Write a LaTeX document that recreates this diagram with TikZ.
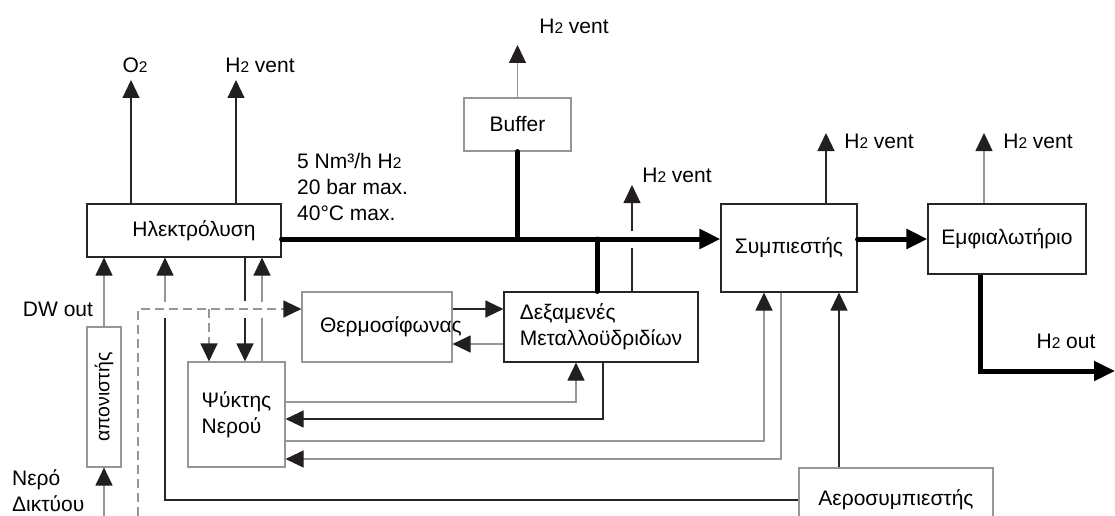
\documentclass[tikz,border=0pt]{standalone}
\usepackage{fontspec}
\setmainfont{Liberation Sans}
\usetikzlibrary{arrows.meta,calc}

\definecolor{pipegray}{RGB}{150,150,150}
\definecolor{tipdark}{RGB}{35,31,32}
\newcommand{\two}{{\fontsize{15.5}{15.5}\selectfont 2}}

\begin{document}
\begin{tikzpicture}[x=1pt,y=-1pt,
  font=\fontsize{21}{26}\selectfont,
  box/.style={draw=black!85,line width=1.1pt,inner sep=0pt},
  boxg/.style={draw=pipegray,line width=1.1pt,inner sep=0pt},
  pipe/.style={line width=1.1pt,black!85},
  pipeg/.style={line width=1.1pt,pipegray},
  main/.style={line width=5pt,black,line cap=round},
  arrowhd/.style={-{Triangle[length=18pt,width=17pt,color=tipdark]}},
  bigtip/.style={-{Triangle[length=21pt,width=19pt,color=black]}},
  dashline/.style={pipeg,dash pattern=on 9pt off 5pt},
  lbl/.style={inner sep=0pt}
]
\clip (0,0) rectangle (1115,516);

% units
\node[box,minimum width=194pt,minimum height=53pt] (elec) at (184,230.5) {\hspace*{20pt}Ηλεκτρόλυση};
\node[boxg,minimum width=107pt,minimum height=53pt] (buffer) at (517.5,124.5) {Buffer};
\node[box,minimum width=136pt,minimum height=88pt] (comp) at (789,248) {Συμπιεστής};
\node[box,minimum width=158pt,minimum height=70pt] (bottle) at (1007,239) {Εμφιαλωτήριο};
\node[boxg,minimum width=34pt,minimum height=140pt] (deion) at (104,397) {\rotatebox{90}{\fontsize{19.5}{19.5}\selectfont απονιστής}};
\node[boxg,minimum width=150pt,minimum height=70pt,text width=114pt,align=left] (thermo) at (377,327) {Θερμοσίφωνας};
\node[box,minimum width=194pt,minimum height=70pt,align=left] (tanks) at (601,327) {Δεξαμενές\\Μεταλλοϋδριδίων};
\node[boxg,minimum width=97pt,minimum height=105pt,align=left] (cooler) at (236.5,414.5) {Ψύκτης\\Νερού};
\node[boxg,minimum width=194pt,minimum height=64pt] (aircomp) at (896,500) {Αεροσυμπιεστής};

\coordinate (hline) at (0,239);
\coordinate (dash) at (0,309);

% vents
\coordinate (o2tip) at (131,80);
\draw[pipe,arrowhd] (elec.north -| o2tip) -- (o2tip);
\node[lbl] (o2) at (135,65) {O\two};
\coordinate (ventA) at (236,80);
\draw[pipe,arrowhd] (elec.north -| ventA) -- (ventA);
\node[lbl] (ventAlbl) at (260,65) {H\two{} vent};
\coordinate (ventB) at (517.5,45);
\draw[pipeg,arrowhd] (buffer.north) -- (ventB);
\node[lbl] (ventBlbl) at (574,26) {H\two{} vent};
\coordinate (ventC) at (632,185);
\draw[pipe] (tanks.north -| ventC) -- ($(hline -| ventC)+(0,9)$);
\draw[pipe,arrowhd] ($(hline -| ventC)+(0,-8)$) -- (ventC);
\node[lbl] (ventClbl) at (677,175) {H\two{} vent};
\coordinate (ventD) at (826,133);
\draw[pipe,arrowhd] (comp.north -| ventD) -- (ventD);
\node[lbl] (ventDlbl) at (879,141) {H\two{} vent};
\coordinate (ventE) at (984,133);
\draw[pipeg,arrowhd] (bottle.north -| ventE) -- (ventE);
\node[lbl] (ventElbl) at (1038,141) {H\two{} vent};

% hydrogen line
\draw[main] (buffer.south) -- (buffer.south |- hline);
\coordinate (tkjoin) at (597,239);
\draw[main] (tkjoin) -- (tanks.north -| tkjoin);
\draw[main,bigtip] (elec.east |- hline) -- (comp.west |- hline);
\node[lbl,align=left,anchor=west] (spec) at (297,187) {5 Nm³/h H\two\\20 bar max.\\40°C max.};
\draw[main,bigtip] (comp.east |- hline) -- (bottle.west |- hline);
\coordinate (h2down) at (980,371);
\coordinate (h2out) at (1115,371);
\draw[main,line cap=butt,bigtip] (bottle.south -| h2down) |- (h2out);
\node[lbl] (h2outlbl) at (1066,341) {H\two{} out};

% water
\coordinate (waterin) at (104,516);
\draw[pipeg,arrowhd] (waterin) -- (deion.south);
\draw[pipeg,arrowhd] (deion.north) -- (elec.south -| deion.north);
\node[lbl] (dwout) at (58,309) {DW out};
\node[lbl,align=left,anchor=west] (netwater) at (12,491) {Νερό\\Δικτύου};

% dashed
\coordinate (dashin) at (138,516);
\draw[dashline,arrowhd] (dashin) |- (thermo.west |- dash);
\coordinate (dashbr) at (209,309);
\draw[dashline,arrowhd] (dashbr) -- (cooler.north -| dashbr);

% lines across the dashed one
\coordinate (airx) at (165,0);
\draw[pipeg,arrowhd] ($(dash -| airx)+(0,-7)$) -- (elec.south -| airx);
\draw[pipe] (aircomp.west) -| ($(dash -| airx)+(0,9)$);
\coordinate (elecout) at (245,0);
\draw[pipe] (elec.south -| elecout) -- ($(dash -| elecout)+(0,-8)$);
\draw[pipe,arrowhd] ($(dash -| elecout)+(0,9)$) -- (cooler.north -| elecout);
\coordinate (elecin) at (262,0);
\draw[pipeg] (cooler.north -| elecin) -- ($(dash -| elecin)+(0,9)$);
\draw[pipeg,arrowhd] ($(dash -| elecin)+(0,-7)$) -- (elec.south -| elecin);

% thermosiphon and tanks
\draw[pipe,arrowhd] (thermo.east |- dash) -- (tanks.west |- dash);
\coordinate (backy) at (0,344);
\draw[pipeg,arrowhd] (tanks.west |- backy) -- (thermo.east |- backy);

% cooling loops
\coordinate (r1) at (576,402);
\draw[pipeg,arrowhd] (cooler.east |- r1) -| (tanks.south -| r1);
\coordinate (r2) at (603,419);
\draw[pipe,arrowhd] (tanks.south -| r2) |- (cooler.east |- r2);
\coordinate (r3) at (764,441);
\draw[pipeg,arrowhd] (cooler.east |- r3) -| (comp.south -| r3);
\coordinate (r4) at (781,459);
\draw[pipeg,arrowhd] (comp.south -| r4) |- (cooler.east |- r4);
\coordinate (r5) at (839,0);
\draw[pipe,arrowhd] (aircomp.north -| r5) -- (comp.south -| r5);

\end{tikzpicture}
\end{document}
